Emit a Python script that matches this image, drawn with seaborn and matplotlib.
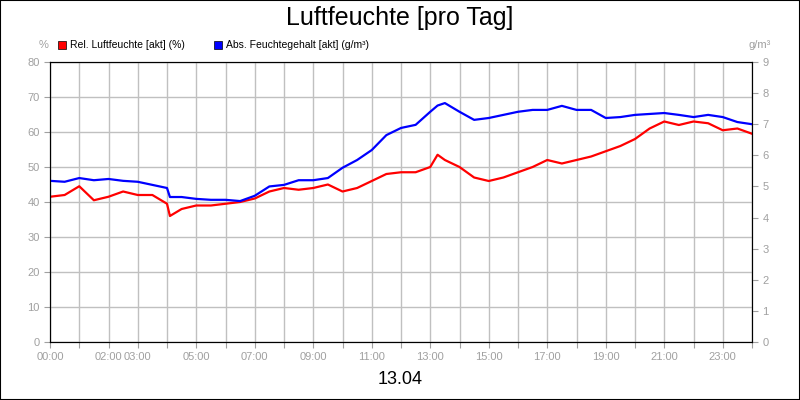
import matplotlib
matplotlib.use("Agg")
import matplotlib.pyplot as plt
import seaborn as sns
import pandas as pd
from matplotlib.patches import Rectangle

plt.rcParams["font.family"] = "Liberation Sans"

hours = [0,0.5,1,1.5,2,2.5,3,3.5,4,4.1,4.5,5,5.5,6,6.5,7,7.5,8,8.5,9,9.5,10,10.5,11,11.5,12,12.5,13,13.25,13.5,14,14.5,15,15.5,16,16.5,17,17.5,18,18.5,19,19.5,20,20.5,21,21.5,22,22.5,23,23.5,24]
rel = [41.5,42,44.5,40.5,41.5,43,42,42,39.5,36,38,39,39,39.5,40,41,43,44,43.5,44,45,43,44,46,48,48.5,48.5,50,53.5,52,50,47,46,47,48.5,50,52,51,52,53,54.5,56,58,61,63,62,63,62.5,60.5,61,59.5]
absf = [5.18,5.15,5.27,5.2,5.24,5.18,5.15,5.05,4.95,4.66,4.66,4.6,4.57,4.57,4.53,4.7,5.0,5.05,5.2,5.2,5.27,5.6,5.85,6.17,6.65,6.88,6.98,7.4,7.6,7.68,7.4,7.14,7.2,7.3,7.4,7.46,7.46,7.59,7.46,7.46,7.2,7.23,7.3,7.33,7.36,7.3,7.23,7.3,7.23,7.07,7.0]
tick_hours = list(range(25))
tick_labels = {0:"00:00",2:"02:00",3:"03:00",5:"05:00",7:"07:00",9:"09:00",11:"11:00",13:"13:00",15:"15:00",17:"17:00",19:"19:00",21:"21:00",23:"23:00"}

df = pd.DataFrame({"h": hours, "rel": rel, "abs": absf})
fig = plt.figure(figsize=(8, 4), dpi=100)
fig.patches.append(Rectangle((0, 0), 1, 1, transform=fig.transFigure, fill=False, edgecolor="black", lw=1.5))
ax = fig.add_axes([0.0625, 0.145, 0.8775, 0.70])
ax2 = ax.twinx()
gray = "#a0a0a0"
sns.lineplot(data=df, x="h", y="rel", ax=ax, color="#ff0000", lw=1.6)
sns.lineplot(data=df, x="h", y="abs", ax=ax2, color="#0000ff", lw=1.6)
ax.set_xlim(0, 24); ax.set_ylim(0, 80); ax2.set_ylim(0, 9)
ax.set_yticks(range(0, 81, 10)); ax2.set_yticks(range(0, 10))
ax.set_xticks(tick_hours)
ax.set_xticklabels([tick_labels.get(h, "") for h in tick_hours])
ax.grid(True, color="#c0c0c0", lw=1)
for a in (ax, ax2):
    a.set_xlabel(""); a.set_ylabel("")
    a.tick_params(colors=gray, labelsize=8, length=4)
    for s in a.spines.values():
        s.set_color("black")
ax.tick_params(axis="x", colors=gray)
fig.text(0.5, 0.955, "Luftfeuchte [pro Tag]", ha="center", va="center", fontsize=18)
fig.text(0.5, 0.05, "13.04", ha="center", va="center", fontsize=13)
fig.text(0.055, 0.88, "%", ha="center", fontsize=8, color=gray)
fig.text(0.95, 0.88, "g/m³", ha="center", fontsize=8, color=gray)
fig.patches.append(Rectangle((0.073, 0.878), 0.01, 0.02, transform=fig.transFigure, color="#ff0000", ec="black", lw=0.5))
fig.text(0.087, 0.888, "Rel. Luftfeuchte [akt] (%)", va="center", fontsize=7.5)
fig.patches.append(Rectangle((0.268, 0.878), 0.01, 0.02, transform=fig.transFigure, color="#0000ff", ec="black", lw=0.5))
fig.text(0.282, 0.888, "Abs. Feuchtegehalt [akt] (g/m³)", va="center", fontsize=7.5)
fig.savefig("out.png", dpi=100)
